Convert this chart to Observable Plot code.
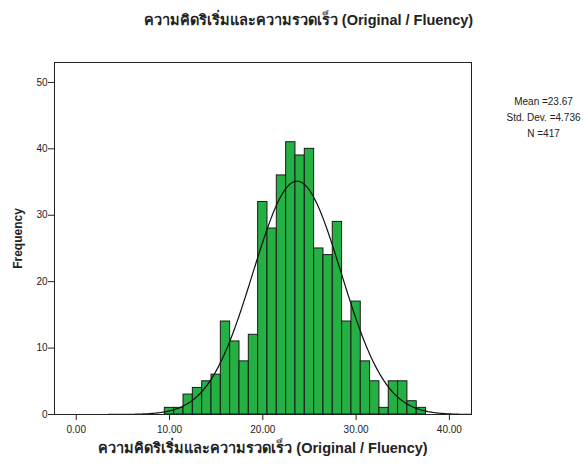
<!DOCTYPE html>
<html>
<head>
<meta charset="utf-8">
<script src="https://cdn.jsdelivr.net/npm/d3@7"></script>
<script src="https://cdn.jsdelivr.net/npm/@observablehq/plot@0.6"></script>
<style>
  html, body { margin: 0; padding: 0; background: #fff; }
  svg { display: block; }
</style>
</head>
<body>
<div id="chart"></div>
<script>
// Bin centres (bin width 1) and frequencies
const binCenters = [10, 11, 12, 13, 14, 15, 16, 17, 18, 19, 20, 21, 22, 23, 24, 25, 26, 27, 28, 29, 30, 31, 32, 33, 34, 35, 36, 37];
const frequencies = [1, 1, 3, 4, 5, 6, 14, 11, 8, 12, 32, 28, 36, 41, 39, 40, 25, 24, 29, 14, 17, 8, 5, 1, 5, 5, 2, 1];
const xTicks = [0, 10, 20, 30, 40];
const yTicks = [0, 10, 20, 30, 40, 50];
const statMean = 23.67;
const statSD = 4.736;
const statN = 417;
const titleText = "ความคิดริเริ่มและความรวดเร็ว (Original / Fluency)";
const xLabel = "ความคิดริเริ่มและความรวดเร็ว (Original / Fluency)";
const yLabel = "Frequency";
const statsText = ["Mean =23.67", "Std. Dev. =4.736", "N =417"];

const bars = binCenters.map((c, i) => ({x1: c - 0.5, x2: c + 0.5, y: frequencies[i]}));
const xDomain = [-2.33, 42.37];
// normal curve scaled to counts (N * binwidth * pdf), from the stated mean / sd
const curve = d3.range(xDomain[0], xDomain[1] + 0.001, 0.1).map(x => ({
  x,
  y: statN * Math.exp(-0.5 * ((x - statMean) / statSD) ** 2) / (statSD * Math.sqrt(2 * Math.PI))
}));

const font = "'Liberation Sans', Arial, sans-serif";

const chart = Plot.plot({
  width: 587,
  height: 466,
  marginLeft: 54,
  marginRight: 116,
  marginTop: 62,
  marginBottom: 52,
  style: {fontFamily: font, fontSize: "10px", color: "#222", background: "#fff", overflow: "visible"},
  x: {domain: xDomain},
  y: {domain: [0, 53]},
  marks: [
    Plot.rectY(bars, {x1: "x1", x2: "x2", y: "y", fill: "#24b042", stroke: "#1a1a1a", strokeWidth: 1}),
    Plot.line(curve, {x: "x", y: "y", stroke: "#111", strokeWidth: 1.2}),
    Plot.frame({stroke: "#222", strokeWidth: 1}),
    Plot.axisX({ticks: xTicks, tickFormat: d3.format(".2f"), tickSize: 6, tickPadding: 5, label: null, fontSize: 10}),
    Plot.axisY({ticks: yTicks, tickSize: 6, tickPadding: 1, label: null, fontSize: 10}),
    Plot.text([titleText], {frameAnchor: "top-left", dx: 254, dy: -42, text: d => d, fontWeight: "bold", fontSize: 14.5, textAnchor: "middle", lineAnchor: "middle"}),
    Plot.text([xLabel], {frameAnchor: "bottom", dy: 34, text: d => d, fontWeight: "bold", fontSize: 14.5, textAnchor: "middle", lineAnchor: "middle"}),
    Plot.text([yLabel], {frameAnchor: "left", dx: -36, text: d => d, fontWeight: "bold", fontSize: 12, rotate: -90, textAnchor: "middle", lineAnchor: "middle"}),
    Plot.text([statsText.join("\n")], {frameAnchor: "top-right", dx: 72, dy: 31, text: d => d, fontSize: 10, textAnchor: "middle", lineAnchor: "top", lineHeight: 1.6})
  ]
});
document.getElementById("chart").appendChild(chart);
</script>
</body>
</html>
